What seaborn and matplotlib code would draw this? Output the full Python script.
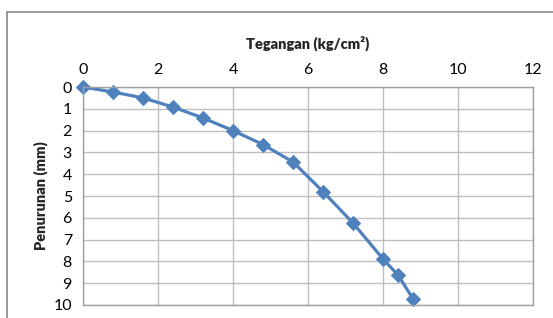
import pandas as pd
import matplotlib
matplotlib.use("Agg")
import matplotlib.pyplot as plt
import seaborn as sns
from matplotlib.patches import Rectangle

# Tegangan (kg/cm2) vs Penurunan (mm)
tegangan = [0.0, 0.8, 1.6, 2.4, 3.2, 4.0, 4.8, 5.6, 6.4, 7.2, 8.0, 8.4, 8.8]
penurunan = [0.0, 0.23, 0.5, 0.92, 1.42, 2.0, 2.64, 3.44, 4.8, 6.24, 7.89, 8.62, 9.72]
x_ticks = [0, 2, 4, 6, 8, 10, 12]
y_ticks = list(range(0, 11))

df = pd.DataFrame({"Tegangan": tegangan, "Penurunan": penurunan})

sns.set_style("white")
plt.rcParams['font.family'] = ['Lato', 'DejaVu Sans']
plt.rcParams['font.size'] = 11

fig = plt.figure(figsize=(5.53, 3.18), dpi=100)
ax = fig.add_axes([83 / 553, 1 - 305 / 318, (533 - 83) / 553, (305 - 87) / 318])

sns.lineplot(data=df, x="Tegangan", y="Penurunan", sort=False, ax=ax,
             color="#4F81BD", linewidth=2.3, marker="D", markersize=7.5,
             markeredgecolor="#4F81BD", clip_on=False)

ax.set_xlim(0, 12)
ax.set_ylim(10, 0)
ax.set_xticks(x_ticks)
ax.set_yticks(y_ticks)
ax.xaxis.tick_top()
ax.xaxis.set_label_position("top")
ax.tick_params(axis="both", length=0, labelsize=11.5, colors="black")
ax.tick_params(axis="x", pad=7)
ax.tick_params(axis="y", pad=8)
ax.grid(True, color="#BEBEBE", linewidth=1)
for s in ax.spines.values():
    s.set_color("#A0A0A0")
    s.set_linewidth(1)

ax.set_xlabel("Tegangan (kg/cm²)", fontweight="heavy", fontsize=10.5, labelpad=11)
ax.set_ylabel("Penurunan (mm)", fontweight="heavy", fontsize=10.5, labelpad=4)

# outer chart frame (cut at right and bottom in the reference)
fig.patches.append(Rectangle((7 / 553, -0.1), 1.2, (318 - 12) / 318 + 0.1,
                             transform=fig.transFigure, fill=False,
                             edgecolor="#868686", linewidth=1.2))

fig.savefig("out.png", dpi=100)
